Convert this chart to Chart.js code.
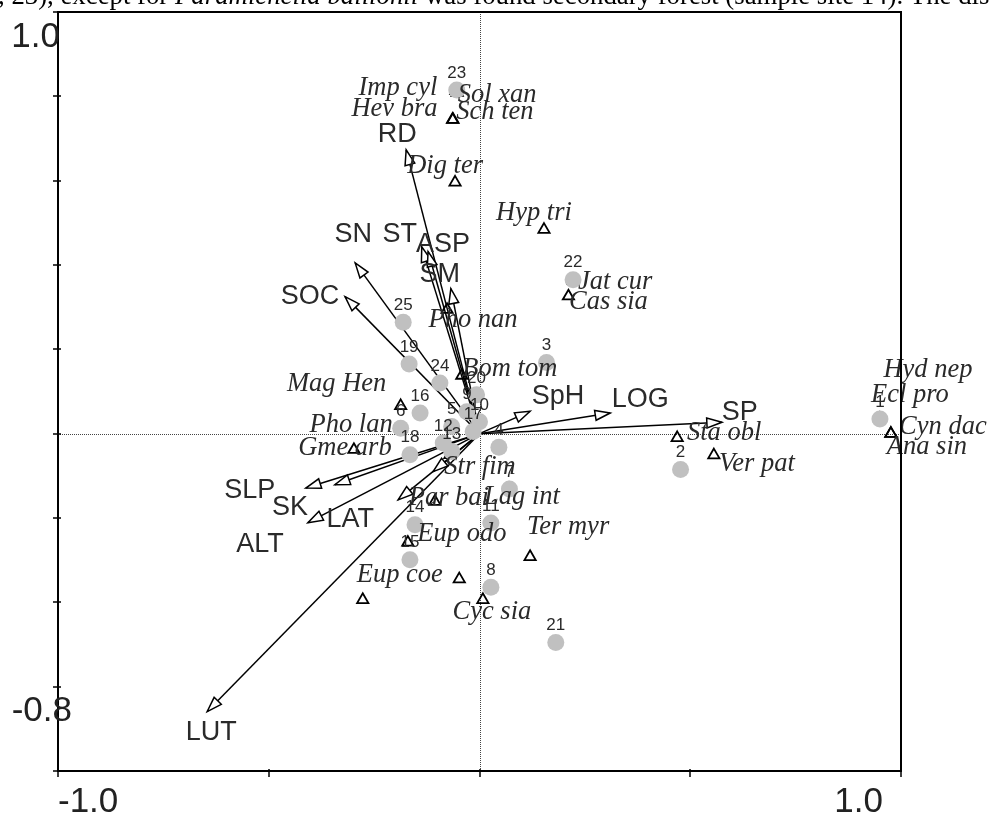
<!DOCTYPE html>
<html>
<head>
<meta charset="utf-8">
<script src="https://cdn.jsdelivr.net/npm/chart.js@4.4.0/dist/chart.umd.min.js"></script>
<style>
  body { margin: 0; background: #fff; }
  canvas { display: block; }
</style>
</head>
<body>
<canvas id="ccaChart" width="989" height="817"></canvas>
<script>
// sample sites (grey dots)
var siteIds = ['1', '2', '3', '4', '5', '6', '7', '8', '9', '10', '11', '12', '13',
  '14', '15', '16', '17', '18', '19', '20', '21', '22', '23', '24', '25'];
var siteX = [0.950, 0.477, 0.159, 0.046, -0.066, -0.187, 0.071, 0.027, -0.030, 0.000, 0.027, -0.086, -0.066,
  -0.153, -0.165, -0.141, -0.015, -0.165, -0.167, -0.007, 0.181, 0.222, -0.054, -0.094, -0.181];
var siteY = [0.035, -0.085, 0.169, -0.032, 0.017, 0.013, -0.131, -0.364, 0.052, 0.028, -0.212, -0.022, -0.042,
  -0.216, -0.299, 0.049, 0.005, -0.050, 0.165, 0.092, -0.495, 0.365, 0.815, 0.120, 0.264];

// species (open triangles)
var speciesNames = ['Imp cyl', 'Sol xan', 'Hev bra', 'Sch ten', 'Dig ter', 'Hyp tri', 'Jat cur', 'Cas sia',
  'Pho nan', 'Bom tom', 'Mag Hen', 'Pho lan', 'Gme arb', 'Str fim', 'Par bai', 'Lag int', 'Eup odo',
  'Ter myr', 'Eup coe', '', 'Cyc sia', 'Sta obl', 'Ver pat', 'Hyd nep', 'Ecl pro', 'Cyn dac', 'Ana sin'];
var speciesX = [-0.056, -0.053, -0.064, -0.063, -0.058, 0.153, 0.222, 0.211,
  -0.077, -0.042, -0.187, -0.186, -0.298, -0.070, -0.106, 0.070, -0.170,
  0.120, -0.277, -0.048, 0.008, 0.469, 0.556, 0.950, 0.950, 0.976, 0.976];
var speciesY = [0.813, 0.809, 0.745, 0.745, 0.596, 0.484, 0.363, 0.326,
  0.294, 0.138, 0.066, 0.012, -0.038, -0.050, -0.161, -0.131, -0.258,
  -0.292, -0.394, -0.345, -0.394, -0.010, -0.051, 0.035, 0.035, 0.000, 0.000];

// environmental variables (arrows from the origin)
var envNames = ['RD', 'SN', 'ST', 'ASP', 'SM', 'SOC', 'SpH', 'LOG', 'SP', 'SLP', 'SK', 'LAT', 'ALT', 'LUT', ''];
var envX = [-0.174, -0.295, -0.137, -0.122, -0.068, -0.319, 0.120, 0.310, 0.575, -0.412, -0.343, -0.193, -0.407, -0.646, -0.110];
var envY = [0.673, 0.405, 0.443, 0.432, 0.344, 0.325, 0.053, 0.049, 0.027, -0.129, -0.121, -0.157, -0.211, -0.659, -0.090];

// axes
var xTicks = [-1.0, -0.5, 0, 0.5, 1.0];
var yTicks = [-0.8, -0.6, -0.4, -0.2, 0, 0.2, 0.4, 0.6, 0.8, 1.0];

// label placement (pixel offsets from the mark, label centre)
var speciesLabelOffset = [[-58, -3], [40, 2], [-58, -10], [42, -7], [-10, -16], [-10, -17], [42, 1], [40, 6],
  [26, 10], [48, -6], [-64, -22], [-50, -4], [-9, -2], [30, 12], [14, -4], [13, 8], [54, -8],
  [38, -30], [37, -25], [0, 0], [9, 12], [47, -5], [43, 9], [48, -49], [30, -24], [52, -7], [36, 13]];
var envLabelOffset = [[-9, -15], [-2, -28], [-22, -12], [15, -7], [-11, -14], [-35, 0], [28, -15], [30, -13],
  [18, -10], [-56, 2], [-45, 23], [-48, 20], [-48, 22], [4, 21], [0, 0]];

var arrowSets = envNames.map(function (n, i) {
  return {
    type: 'line',
    label: n || 'env',
    data: [{ x: 0, y: 0 }, { x: envX[i], y: envY[i] }],
    borderColor: '#000',
    borderWidth: 1.5,
    pointRadius: 0,
    fill: false,
    order: 3
  };
});

var decor = {
  id: 'decor',
  beforeDatasetsDraw: function (chart) {
    var c = chart.ctx, a = chart.chartArea;
    var x0 = chart.scales.x.getPixelForValue(0);
    var y0 = chart.scales.y.getPixelForValue(0);
    c.save();
    c.strokeStyle = '#444';
    c.lineWidth = 1;
    c.setLineDash([1, 1]);
    c.beginPath();
    c.moveTo(Math.round(x0) + 0.5, a.top);
    c.lineTo(Math.round(x0) + 0.5, a.bottom);
    c.moveTo(a.left, Math.round(y0) + 0.5);
    c.lineTo(a.right, Math.round(y0) + 0.5);
    c.stroke();
    c.restore();
  },
  afterDatasetsDraw: function (chart) {
    var c = chart.ctx, a = chart.chartArea;
    var sx = chart.scales.x, sy = chart.scales.y;
    c.save();

    // arrow heads
    envNames.forEach(function (n, i) {
      var ox = sx.getPixelForValue(0), oy = sy.getPixelForValue(0);
      var tx = sx.getPixelForValue(envX[i]), ty = sy.getPixelForValue(envY[i]);
      var ang = Math.atan2(ty - oy, tx - ox);
      var len = 15, hw = 5;
      var bx = tx - Math.cos(ang) * len, by = ty - Math.sin(ang) * len;
      c.beginPath();
      c.moveTo(tx, ty);
      c.lineTo(bx + Math.sin(ang) * hw, by - Math.cos(ang) * hw);
      c.lineTo(bx - Math.sin(ang) * hw, by + Math.cos(ang) * hw);
      c.closePath();
      c.fillStyle = '#fff';
      c.fill();
      c.strokeStyle = '#000';
      c.lineWidth = 1.5;
      c.stroke();
    });

    c.textAlign = 'center';
    c.textBaseline = 'middle';

    // species labels
    c.fillStyle = '#2a2a2a';
    c.font = 'italic 26.5px "Liberation Serif", "Times New Roman", serif';
    speciesNames.forEach(function (n, i) {
      if (!n) return;
      var px = sx.getPixelForValue(speciesX[i]), py = sy.getPixelForValue(speciesY[i]);
      c.fillText(n, px + speciesLabelOffset[i][0], py + speciesLabelOffset[i][1]);
    });

    // site numbers
    c.font = '17px "Liberation Sans", Arial, sans-serif';
    siteIds.forEach(function (n, i) {
      c.fillText(n, sx.getPixelForValue(siteX[i]), sy.getPixelForValue(siteY[i]) - 17);
    });

    // environmental labels
    c.font = '27px "Liberation Sans", Arial, sans-serif';
    envNames.forEach(function (n, i) {
      if (!n) return;
      var px = sx.getPixelForValue(envX[i]), py = sy.getPixelForValue(envY[i]);
      c.fillText(n, px + envLabelOffset[i][0], py + envLabelOffset[i][1]);
    });

    // frame and ticks
    c.strokeStyle = '#000';
    c.lineWidth = 2;
    c.strokeRect(a.left, a.top, a.right - a.left, a.bottom - a.top);
    c.lineWidth = 1.5;
    c.beginPath();
    yTicks.forEach(function (v) {
      var py = Math.round(sy.getPixelForValue(v));
      c.moveTo(a.left - 5, py);
      c.lineTo(a.left + 3, py);
    });
    xTicks.forEach(function (v) {
      var px = Math.round(sx.getPixelForValue(v));
      c.moveTo(px, a.bottom - 2);
      c.lineTo(px, a.bottom + 6);
    });
    c.stroke();

    // end labels of the axes
    c.fillStyle = '#222';
    c.font = '35px "Liberation Sans", Arial, sans-serif';
    c.textAlign = 'right';
    c.fillText(yTicks[yTicks.length - 1].toFixed(1), a.left + 2, sy.getPixelForValue(yTicks[yTicks.length - 1]) + 25);
    c.fillText(yTicks[0].toFixed(1), a.left + 14, sy.getPixelForValue(yTicks[0]) - 60);
    c.textAlign = 'left';
    c.fillText(xTicks[0].toFixed(1), sx.getPixelForValue(xTicks[0]), a.bottom + 31);
    c.textAlign = 'right';
    c.fillText(xTicks[xTicks.length - 1].toFixed(1), sx.getPixelForValue(xTicks[xTicks.length - 1]) - 18, a.bottom + 31);

    // cut-off caption line above the figure
    var parts = [[', 23), except for ', ''], ['Paramichelia baillonii', 'italic '],
      [' was found secondary forest (sample site 14). The dis', '']];
    var size = 22, total = 0;
    parts.forEach(function (p) {
      c.font = p[1] + size + 'px "Liberation Serif", "Times New Roman", serif';
      total += c.measureText(p[0]).width;
    });
    size = size * 992 / total;
    c.fillStyle = '#000';
    c.textAlign = 'left';
    c.textBaseline = 'alphabetic';
    var cx = -2;
    parts.forEach(function (p) {
      c.font = p[1] + size + 'px "Liberation Serif", "Times New Roman", serif';
      c.fillText(p[0], cx, 4);
      cx += c.measureText(p[0]).width;
    });
    c.restore();
  }
};

var ctx = document.getElementById('ccaChart').getContext('2d');
var ccaChart = new Chart(ctx, {
  type: 'scatter',
  data: {
    datasets: [{
      label: 'Sites',
      data: siteX.map(function (v, i) { return { x: v, y: siteY[i] }; }),
      pointStyle: 'circle',
      pointRadius: 8.5,
      backgroundColor: '#c0c0c0',
      borderWidth: 0,
      order: 1
    }, {
      label: 'Species',
      data: speciesX.map(function (v, i) { return { x: v, y: speciesY[i] }; }),
      pointStyle: 'triangle',
      pointRadius: 6.5,
      backgroundColor: 'rgba(0,0,0,0)',
      borderColor: '#000',
      borderWidth: 1.8,
      order: 2
    }].concat(arrowSets)
  },
  options: {
    responsive: false,
    animation: false,
    layout: { padding: { left: 58, right: 88, top: 12, bottom: 46 } },
    plugins: { legend: { display: false }, tooltip: { enabled: false } },
    scales: {
      x: { type: 'linear', min: -1.0, max: 1.0, display: false },
      y: { type: 'linear', min: -0.8, max: 1.0, display: false }
    }
  },
  plugins: [decor]
});
</script>
</body>
</html>
